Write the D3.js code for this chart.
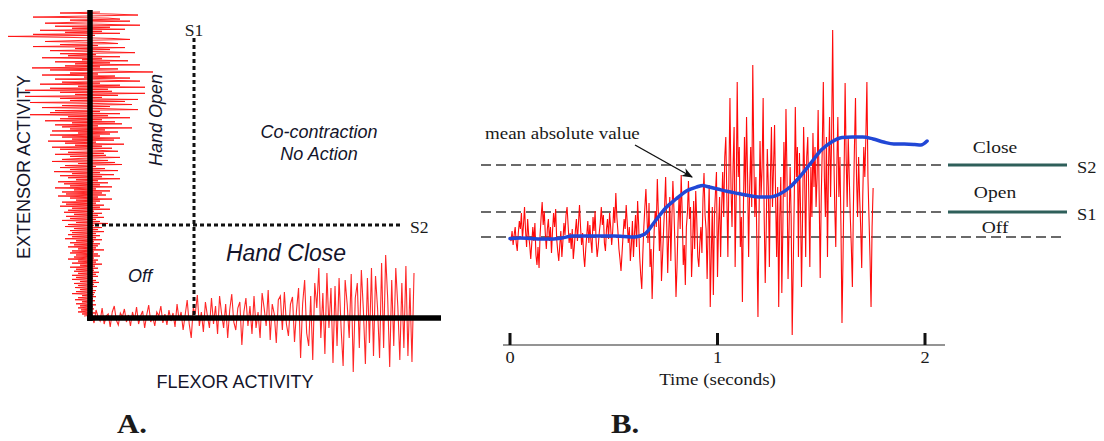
<!DOCTYPE html>
<html>
<head>
<meta charset="utf-8">
<script src="https://cdn.jsdelivr.net/npm/d3@7"></script>
<style>
  html, body { margin: 0; padding: 0; background: #fff; }
  svg { display: block; }
  .sans { font-family: "Liberation Sans", Arial, sans-serif; fill: #14142a; }
  .serif { font-family: "Liberation Serif", "Times New Roman", serif; fill: #1a1a1a; }
</style>
</head>
<body>
<svg id="chart" width="1104" height="441"></svg>
<script>
// ---------- Panel A: extensor vs flexor EMG control space ----------
// Extensor EMG trace, top to bottom (horizontal deflection, + = right)
const extensorTrace = [
  10, -30, 22, 48, -5, -57, 18, 30, -20, 40, -12, -45, 8, 50, -35, 20, -18, 35, -50, 12,
  -25, 30, -57, 5, -82, -20, 22, 40, -10, -45, 14, 28, -30, 8, -57, 35, -15, 20, -40, 10,
  45, -30, 6, -22, 30, -48, 12, -8, 38, -35, 20, -15, 50, -25, 10, -58, 28, -40, 15, 63,
  -20, 8, -48, 25, -6, 40, -35, 15, 50, -28, 10, -50, 30, -12, 55, -40, 18, -65, 22, -30,
  55, -15, 28, -65, 12, -30, 48, -20, 35, -60, 8, 42, -28, 20, -48, 14, 48, -35, 10, -40,
  30, -60, 18, -22, 40, -30, 12, -45, 25, -18, 32, -35, 8, -28, 42, -20, 15, -38, 28, -12,
  20, -40, 10, -28, 30, -18, 24, -42, 6, -25, 34, -15, 12, -38, 22, -30, 8, 28, -22, 14,
  -35, 16, -20, 30, -10, -28, 18, -38, 25, -12, 32, -25, 6, -30, 15, -20, 28, -36, 10, -18,
  24, -30, 12, -22, 30, -14, 8, -32, 18, -26, 10, -20, 22, -35, 6, -16, 20, -28, 12, -24,
  16, -32, 8, -20, 22, -14, 10, -28, 6, -24, 14, -30, 10, -18, 20, -22, 4, -26, 12, -16,
  8, -24, 14, -20, 6, -28, 10, -14, 18, -22, 4, -25, 12, -16, 8, -20, 14, -18, 6, -22,
  10, -18, 6, -25, 12, -14, 4, -20, 10, -16, 8, -22, 6, -12, 14, -18, 4, -20, 8, -14,
  10, -16, 4, -22, 8, -12, 6, -18, 12, -10, 5, -20, 8, -14, 4, -16, 9, -12, 6, -18,
  8, -14, 3, -18, 6, -10, 9, -16, 4, -12, 7, -15, 3, -10, 6, -14, 5, -18, 4, -8,
  6, -12, 3, -15, 5, -8, 2, -14, 6, -10, 3, -12, 4, -9, 2, -12, 5, -8, 3, -6
];
// Flexor EMG trace, left to right (vertical deflection, + = up)
const flexorTrace = [
  3, -5, 8, 1, -3, 10, -6, 2, 4, -9, 6, 12, -2, -7, 5, 1, 9, -4, 3, -8,
  6, -2, 11, -6, 2, 7, -10, 3, 13, -4, 1, -8, 6, 2, 12, -5, 4, -7, 8, -3,
  5, -9, 14, -2, 6, -12, 3, 18, -6, -20, 10, 4, 23, -8, 6, -14, 16, 2, -10, 20,
  -6, 12, -16, 22, 4, -10, 14, -20, 8, 24, -4, -12, 10, 16, -27, 6, 20, -8, 12, -16,
  22, -10, 6, -20, 25, 10, -8, 28, -22, 14, 4, -25, 18, 22, -12, 26, -6, -18, 14, 21,
  -24, 8, 30, -40, 14, 38, -15, -28, 22, -42, 35, 10, 50, -20, 25, -36, 45, -10, 30, -45,
  32, -28, 40, -10, -48, 38, 14, -20, 44, -54, 20, 35, -30, 48, 8, -46, 40, -25, 50, -38,
  42, 10, -40, 55, -30, 63, 20, -49, 38, -28, 50, 12, -42, 35, -30, 52, -38, 30, -44, 45
];
// Thresholds in panel A (flexor S1, extensor S2), in trace units from the axes
const thresholdFlexorS1 = 104;
const thresholdExtensorS2 = 93;

// ---------- Panel B: raw EMG and its mean absolute value ----------
const rawStep = 0.005; // seconds between raw samples
const rawEmg = [
  0, -4, 6, -8, 2, 10, -6, -14, 4, 16, 8, 24, -2, 12, 30, 6, -10, 18, 2, -8,
  -22, -6, 10, -4, 14, -18, -28, -10, -31, 2, 20, 35, 12, 26, 4, -12, 8, 18, -4, 10,
  -16, 6, 24, 10, 28, -2, -14, -24, -8, 6, -20, -4, 14, 2, 22, 30, 12, -6, 4, -12,
  8, -22, -10, 6, 18, -4, 14, 32, 10, -8, 4, -18, -30, -12, 2, 16, -6, 12, -4, -16,
  20, 6, 26, -4, -20, -10, 4, 14, 30, 12, 22, -6, -14, 8, 18, -2, 24, 10, -8, 6,
  30, 14, 44, 20, 6, -12, -22, -34, -16, 2, 18, 8, 32, 14, -6, 10, -24, -8, 16, -20,
  4, 22, -10, 36, 12, -20, -38, -52, -18, 10, 30, 48, 20, -6, 34, -30, -12, -62, -26, 8,
  26, 10, 58, 24, -14, 20, -44, -20, 6, 30, 60, 16, -36, 4, 40, -24, 18, 56, 28, -10,
  -60, -30, 14, 42, 8, 62, 24, -28, -8, -48, 10, 24, 56, 18, 30, -40, -10, 36, -12, 46,
  18, -20, -30, -6, 10, -16, 38, 64, 22, 8, -42, 12, 52, -70, -18, 30, -58, 20, 44, 65,
  -40, 10, 40, -20, 30, 65, 20, 80, 100, 40, -20, 60, 139, 50, 10, 70, 110, -30, 40, 155,
  60, 90, -10, 20, -65, 30, 100, 40, 120, 60, -20, 50, 90, 30, 172, 80, 20, 60, -10, -80,
  20, 96, 40, 70, 139, 20, -46, 10, 88, 50, -30, 60, 110, 30, 70, 112, 40, -20, 50, -70,
  20, 60, -56, 10, 95, 40, 128, 60, -42, 10, 70, 20, -98, -30, 40, 130, 60, 90, -20, 84,
  30, -50, 20, 110, 60, -20, 80, 100, 40, -30, 70, 20, 104, 50, 90, 30, 60, 127, 40, -41,
  40, 90, 155, 60, 20, 100, -20, 70, 120, 40, 100, 207, 90, 30, -10, 70, 120, 40, 80, 10,
  -86, -20, 60, 154, 80, 30, 100, 60, 20, -10, -50, 30, 90, 139, 60, 20, 80, 40, 10, -31,
  40, 90, 60, 100, 155, 60, 20, -20, -70, 10, 49
];
const mavTimes = [0, 0.05, 0.10, 0.15, 0.20, 0.25, 0.30, 0.35, 0.40, 0.45, 0.50, 0.55, 0.60, 0.625,
  0.65, 0.70, 0.75, 0.80, 0.85, 0.90, 0.93, 0.95, 1.00, 1.05, 1.10, 1.15, 1.20, 1.25, 1.30, 1.35,
  1.40, 1.45, 1.50, 1.55, 1.60, 1.65, 1.70, 1.75, 1.80, 1.85, 1.90, 1.95, 1.98, 2.01];
const mavValues = [-1.5, -1, -1.5, -2, -2, -1, 1, 1, 1, 1, 1, 0.5, 0, 1,
  3, 16, 29, 38, 46, 50, 51.5, 50.5, 48, 45.5, 43.5, 41.5, 40, 40, 43, 50,
  61, 74, 87, 95, 99.5, 100, 100, 98, 95, 93, 93, 92.5, 92, 96];
const thresholdNames = ["Off", "S1", "S2"];
const thresholdValues = [0, 25, 72];
const stateLabels = ["Off", "Open", "Close"];
const timeTicks = [0, 1, 2];

const svg = d3.select("#chart");
const SANS = "sans", SERIF = "serif";

function label(g, cls, x, y, str, opt = {}) {
  const t = g.append("text")
    .attr("class", cls)
    .attr("transform", `translate(${x},${y})` + (opt.rotate ? ` rotate(${opt.rotate})` : "") + ` scale(${opt.sx || 1},1)`)
    .attr("text-anchor", opt.anchor || "middle")
    .style("font-size", (opt.size || 16) + "px")
    .text(str);
  if (opt.italic) t.style("font-style", "italic");
  if (opt.bold) t.style("font-weight", "bold");
  return t;
}

// ===== Panel A =====
const A = svg.append("g");
const originX = 90, originY = 318;

const extPos = d3.scaleLinear().domain([0, extensorTrace.length - 1]).range([12, 316]);
const extAmp = d3.scaleLinear().domain([-100, 100]).range([originX - 100, originX + 100]);
const flexPos = d3.scaleLinear().domain([0, flexorTrace.length - 1]).range([92, 414]);
const flexAmp = d3.scaleLinear().domain([-100, 100]).range([originY + 100, originY - 100]);

A.append("path")
  .datum(extensorTrace)
  .attr("fill", "none").attr("stroke", "#ff1010").attr("stroke-width", 1).attr("stroke-opacity", 0.9)
  .attr("d", d3.line().x(d => extAmp(d)).y((d, i) => extPos(i)));

A.append("path")
  .datum(flexorTrace)
  .attr("fill", "none").attr("stroke", "#ff1010").attr("stroke-width", 1.1).attr("stroke-opacity", 0.9)
  .attr("d", d3.line().x((d, i) => flexPos(i)).y(d => flexAmp(d)));

// threshold lines
const s1x = originX + thresholdFlexorS1;
const s2y = originY - thresholdExtensorS2;
A.append("line").attr("x1", s1x).attr("x2", s1x).attr("y1", 38).attr("y2", 315)
  .attr("stroke", "#111").attr("stroke-width", 3).attr("stroke-dasharray", "4,3");
A.append("line").attr("x1", 95).attr("x2", 400).attr("y1", s2y).attr("y2", s2y)
  .attr("stroke", "#111").attr("stroke-width", 3).attr("stroke-dasharray", "4,3");

// axes
A.append("line").attr("x1", originX).attr("x2", originX).attr("y1", 10).attr("y2", originY + 3)
  .attr("stroke", "#000").attr("stroke-width", 5.5);
A.append("line").attr("x1", originX - 3).attr("x2", 441).attr("y1", originY).attr("y2", originY)
  .attr("stroke", "#000").attr("stroke-width", 5.5);

label(A, SERIF, s1x, 36, "S1", { size: 16, sx: 1.1 });
label(A, SERIF, 410, 233, "S2", { size: 16, sx: 1.1, anchor: "start" });
label(A, SANS, 162, 120, "Hand Open", { size: 18, italic: true, rotate: -90 });
label(A, SANS, 319, 138, "Co-contraction", { size: 18, italic: true });
label(A, SANS, 319, 160, "No Action", { size: 18, italic: true });
label(A, SANS, 286, 261, "Hand Close", { size: 23, italic: true });
label(A, SANS, 140, 282, "Off", { size: 18, italic: true });
label(A, SANS, 30, 167, "EXTENSOR ACTIVITY", { size: 18, rotate: -90 });
label(A, SANS, 235, 388, "FLEXOR ACTIVITY", { size: 18 });
label(A, SERIF, 132, 433, "A.", { size: 28, bold: true, sx: 1.1 });

// ===== Panel B =====
const B = svg.append("g");
const xB = d3.scaleLinear().domain([0, 2]).range([510, 925]);
const yB = d3.scaleLinear().domain([-100, 100]).range([337, 137]);

// threshold lines (dashed) plus solid state markers at the right
const dashRight = [1065, 943, 943];
thresholdValues.forEach((v, i) => {
  B.append("line").attr("x1", 481).attr("x2", dashRight[i]).attr("y1", yB(v)).attr("y2", yB(v))
    .attr("stroke", "#3a3a3a").attr("stroke-width", 1.5).attr("stroke-dasharray", "10,5");
  if (i > 0) {
    B.append("line").attr("x1", 948).attr("x2", 1067).attr("y1", yB(v)).attr("y2", yB(v))
      .attr("stroke", "#2e5f5a").attr("stroke-width", 3);
    label(B, SERIF, 1077, yB(v) + 8, thresholdNames[i], { size: 16, sx: 1.15, anchor: "start" });
  }
});
label(B, SERIF, 995, 153, stateLabels[2], { size: 17, sx: 1.15 });
label(B, SERIF, 995, 198, stateLabels[1], { size: 17, sx: 1.15 });
label(B, SERIF, 995, 233, stateLabels[0], { size: 17, sx: 1.15 });

// raw EMG
B.append("path")
  .datum(rawEmg)
  .attr("fill", "none").attr("stroke", "#ff0a0a").attr("stroke-width", 1.1)
  .attr("d", d3.line().x((d, i) => xB(i * rawStep)).y(d => yB(d)));

// mean absolute value
B.append("path")
  .datum(mavTimes.map((t, i) => [t, mavValues[i]]))
  .attr("fill", "none").attr("stroke", "#2147d6").attr("stroke-width", 3.5)
  .attr("stroke-linecap", "round").attr("stroke-linejoin", "round")
  .attr("d", d3.line().x(d => xB(d[0])).y(d => yB(d[1])).curve(d3.curveMonotoneX));

// annotation
svg.append("defs").append("marker")
  .attr("id", "arrowHead").attr("viewBox", "0 0 10 10").attr("refX", 9).attr("refY", 5)
  .attr("markerWidth", 8).attr("markerHeight", 8).attr("orient", "auto")
  .append("path").attr("d", "M0,1 L10,5 L0,9 L3,5 Z").attr("fill", "#111");
B.append("line").attr("x1", 635).attr("y1", 145).attr("x2", 692).attr("y2", 177)
  .attr("stroke", "#111").attr("stroke-width", 1.4).attr("marker-end", "url(#arrowHead)");
label(B, SERIF, 485, 139, "mean absolute value", { size: 16.5, sx: 1.15, anchor: "start" });

// time axis
const axisY = 345;
B.append("line").attr("x1", 503).attr("x2", 945).attr("y1", axisY).attr("y2", axisY)
  .attr("stroke", "#707070").attr("stroke-width", 1.5);
timeTicks.forEach(t => {
  B.append("line").attr("x1", xB(t)).attr("x2", xB(t)).attr("y1", 333).attr("y2", axisY)
    .attr("stroke", "#111").attr("stroke-width", 3);
  label(B, SERIF, xB(t), 363, String(t), { size: 16, sx: 1.15 });
});
label(B, SERIF, xB(1), 385, "Time (seconds)", { size: 16.5, sx: 1.15 });
label(B, SERIF, 625, 433, "B.", { size: 28, bold: true, sx: 1.1 });
</script>
</body>
</html>
